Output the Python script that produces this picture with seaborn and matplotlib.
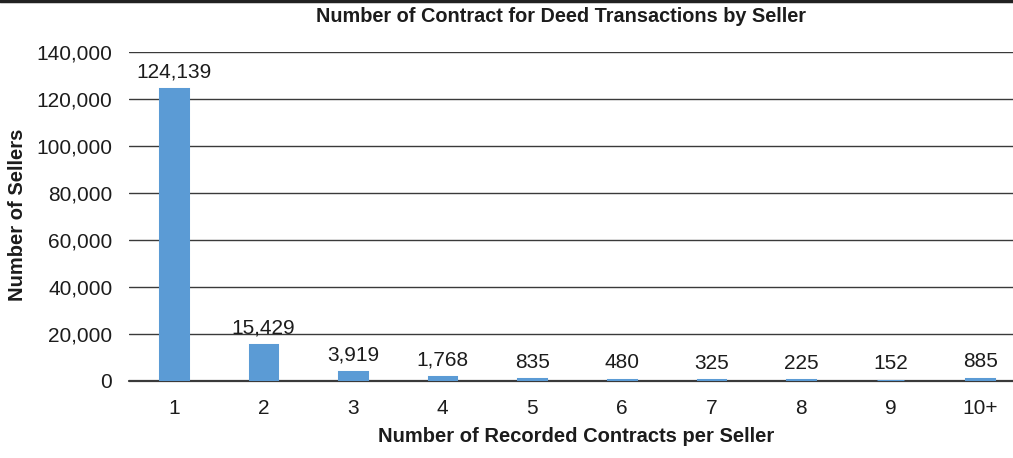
import matplotlib
matplotlib.use("Agg")
import matplotlib.pyplot as plt
import seaborn as sns
import pandas as pd

# Dados
categorias = ["1", "2", "3", "4", "5", "6", "7", "8", "9", "10+"]
vendedores = [124139, 15429, 3919, 1768, 835, 480, 325, 225, 152, 885]
y_ticks = [0, 20000, 40000, 60000, 80000, 100000, 120000, 140000]

COR_BARRA = "#5B9BD5"
COR_TEXTO = "#1c1c1c"

sns.set_theme(style="white")
plt.rcParams["font.family"] = ["Liberation Sans", "DejaVu Sans"]

df = pd.DataFrame({"contratos": categorias, "vendedores": vendedores})

fig = plt.figure(figsize=(10.13, 4.58), dpi=100)
ax = fig.add_axes([129 / 1013, 1 - 381 / 458, (1025 - 129) / 1013, (381 - 52) / 458])

sns.barplot(
    data=df, x="contratos", y="vendedores", color=COR_BARRA,
    width=0.31, edgecolor=COR_BARRA, linewidth=2.2, saturation=1, ax=ax, zorder=4,
)

# rotulos de valor acima das barras
for i, v in enumerate(vendedores):
    ax.text(i, v + 3200, f"{v:,}", ha="center", va="bottom",
            fontsize=15, color=COR_TEXTO, zorder=5)

ax.set_ylim(0, 140000)
ax.set_yticks(y_ticks)
ax.set_yticklabels([f"{t:,}" for t in y_ticks])
ax.yaxis.grid(True, color="#3a3a3a", linewidth=1.0, zorder=0)
ax.axhline(0, color="#3a3a3a", linewidth=1.6, zorder=3, clip_on=False)
for s in ["top", "right", "left", "bottom"]:
    ax.spines[s].set_visible(False)
ax.tick_params(axis="both", length=0, labelsize=15, colors=COR_TEXTO)
ax.tick_params(axis="y", pad=12)
ax.tick_params(axis="x", pad=13)

ax.set_xlabel("")
ax.set_ylabel("")
fig.text(18 / 1013, 1 - 215 / 458, "Number of Sellers", rotation=90,
         ha="center", va="center", fontsize=14.5, fontweight="bold", color=COR_TEXTO)
fig.text(576 / 1013, 1 - 437 / 458, "Number of Recorded Contracts per Seller",
         ha="center", va="center", fontsize=14.5, fontweight="bold", color=COR_TEXTO)
fig.text(561 / 1013, 1 - 17 / 458, "Number of Contract for Deed Transactions by Seller",
         ha="center", va="center", fontsize=14.3, fontweight="bold", color=COR_TEXTO)

# linha preta no topo da figura
fig.add_artist(plt.Line2D([0, 1], [0.998, 0.998], color="#222222", linewidth=2.5,
                          transform=fig.transFigure))

fig.savefig("out.png", dpi=100)
